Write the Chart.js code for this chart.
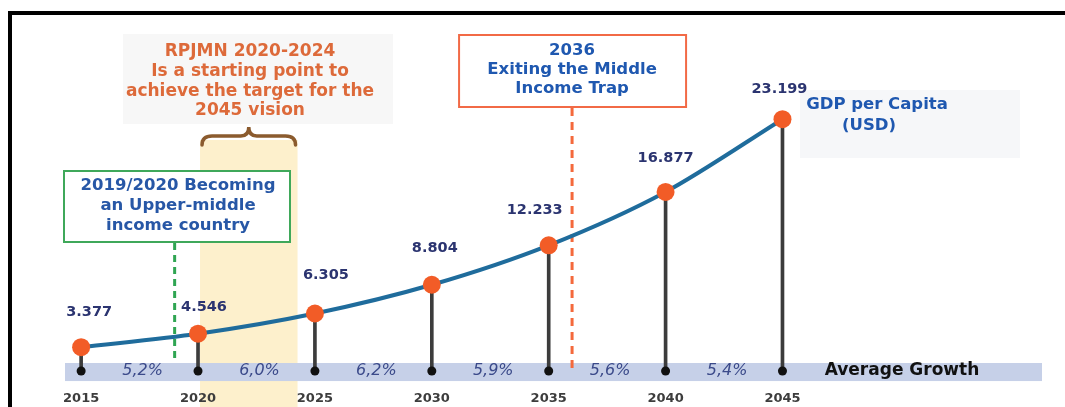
<!DOCTYPE html>
<html>
<head>
<meta charset="utf-8">
<script src="https://cdn.jsdelivr.net/npm/chart.js@4.4.1/dist/chart.umd.min.js"></script>
<style>
  html, body { margin: 0; padding: 0; background: #fff; }
  canvas { display: block; }
</style>
</head>
<body>
<canvas id="gdp-chart" width="1065" height="407"></canvas>
<script>
// GDP per capita (USD) on the road to the 2045 vision
const years = [2015, 2020, 2025, 2030, 2035, 2040, 2045];
const gdpPerCapita = [3377, 4546, 6305, 8804, 12233, 16877, 23199];
const avgGrowth = [5.2, 6.0, 6.2, 5.9, 5.6, 5.4]; // % per 5-year period
const rpjmnPeriod = [2020, 2024];
const upperMiddleYear = 2019;
const exitTrapYear = 2036;

const STEM_BASE = 1300; // level of the black dots on the growth band

// little helpers
function fmtThousands(v) {
  return String(v).replace(/\B(?=(\d{3})+(?!\d))/g, '.');
}
function fmtPct(v) {
  return v.toFixed(1).replace('.', ',') + '%';
}
function drawLines(ctx, lines, x, ys, font, color) {
  ctx.save();
  ctx.font = font;
  ctx.fillStyle = color;
  ctx.textAlign = 'center';
  ctx.textBaseline = 'middle';
  lines.forEach((s, i) => ctx.fillText(s, x, ys[i]));
  ctx.restore();
}

// backgrounds: frame, yellow RPJMN column, growth band
const backdrop = {
  id: 'backdrop',
  beforeDraw(chart) {
    const ctx = chart.ctx;
    const x = chart.scales.x, y = chart.scales.y;
    ctx.save();
    ctx.fillStyle = '#fff';
    ctx.fillRect(0, 0, chart.width, chart.height);

    // RPJMN column
    ctx.fillStyle = '#fdf0cc';
    const x0 = x.getPixelForValue(rpjmnPeriod[0]) + 2;
    const x1 = x.getPixelForValue(rpjmnPeriod[1]) + 6;
    ctx.fillRect(x0, 140, x1 - x0, chart.height - 140);

    // average growth band
    ctx.fillStyle = '#c6d0e8';
    const bTop = y.getPixelForValue(2000), bBot = y.getPixelForValue(430);
    ctx.fillRect(65, bTop, 1042 - 65, bBot - bTop);

    // light panels behind the text notes
    ctx.fillStyle = '#f7f7f7';
    ctx.fillRect(123, 34, 270, 90);
    ctx.fillStyle = '#f6f7f9';
    ctx.fillRect(800, 90, 220, 68);

    // frame
    ctx.fillStyle = '#000';
    ctx.fillRect(8, 11, chart.width - 8, 4);
    ctx.fillRect(8, 11, 4, chart.height - 11);
    ctx.restore();
  }
};

// boxes, dashed milestone lines, brace
const notes = {
  id: 'notes',
  beforeDatasetsDraw(chart) {
    const ctx = chart.ctx;
    const x = chart.scales.x, y = chart.scales.y;
    ctx.save();

    // green milestone
    const gx = x.getPixelForValue(upperMiddleYear);
    ctx.strokeStyle = '#2fa552';
    ctx.lineWidth = 3;
    ctx.setLineDash([7, 5]);
    ctx.beginPath();
    ctx.moveTo(gx, 243);
    ctx.lineTo(gx, y.getPixelForValue(2000));
    ctx.stroke();

    // orange milestone
    const ox = x.getPixelForValue(exitTrapYear);
    ctx.strokeStyle = '#f4693c';
    ctx.setLineDash([8, 6]);
    ctx.beginPath();
    ctx.moveTo(ox, 108);
    ctx.lineTo(ox, 368);
    ctx.stroke();
    ctx.setLineDash([]);

    // green box
    ctx.fillStyle = '#fff';
    ctx.fillRect(64, 171, 226, 71);
    ctx.strokeStyle = '#3fa85a';
    ctx.lineWidth = 2;
    ctx.strokeRect(64, 171, 226, 71);

    // orange box
    ctx.fillRect(ox - 113, 35, 227, 72);
    ctx.strokeStyle = '#f26a46';
    ctx.strokeRect(ox - 113, 35, 227, 72);

    // brace over the RPJMN column
    const bx0 = x.getPixelForValue(rpjmnPeriod[0]) + 2;
    const bx1 = x.getPixelForValue(rpjmnPeriod[1]) + 6;
    const bm = (bx0 + bx1) / 2;
    ctx.strokeStyle = '#8b5b2e';
    ctx.lineWidth = 3.5;
    ctx.lineCap = 'round';
    ctx.beginPath();
    ctx.moveTo(bx0 + 2, 145);
    ctx.quadraticCurveTo(bx0 + 2, 136, bx0 + 12, 136);
    ctx.lineTo(bm - 8, 136);
    ctx.quadraticCurveTo(bm, 136, bm, 127);
    ctx.quadraticCurveTo(bm, 136, bm + 8, 136);
    ctx.lineTo(bx1 - 12, 136);
    ctx.quadraticCurveTo(bx1 - 2, 136, bx1 - 2, 145);
    ctx.stroke();
    ctx.restore();
  },
  afterDatasetsDraw(chart) {
    const ctx = chart.ctx;
    const x = chart.scales.x, y = chart.scales.y;

    drawLines(ctx, ['RPJMN 2020-2024', 'Is a starting point to', 'achieve the target for the', '2045 vision'],
      250, [52, 72, 92, 111], 'bold 17px "DejaVu Sans"', '#dd6a3a');
    drawLines(ctx, ['2019/2020 Becoming', 'an Upper-middle', 'income country'],
      178, [186, 206, 226], 'bold 16.5px "DejaVu Sans"', '#2757a6');
    drawLines(ctx, ['2036', 'Exiting the Middle', 'Income Trap'],
      x.getPixelForValue(exitTrapYear), [51, 70, 89], 'bold 16.5px "DejaVu Sans"', '#1f58b0');
    drawLines(ctx, ['GDP per Capita'], 877, [105], 'bold 16.5px "DejaVu Sans"', '#1f58b0');
    drawLines(ctx, ['(USD)'], 869, [126], 'bold 16.5px "DejaVu Sans"', '#1f58b0');

    // value labels above the points
    const nudge = [[8, -35], [6, -26], [11, -38], [3, -37], [-14, -35], [0, -34], [-3, -30]];
    const pts = chart.getDatasetMeta(0).data;
    ctx.save();
    ctx.font = 'bold 14.5px "DejaVu Sans"';
    ctx.fillStyle = '#2b3470';
    ctx.textAlign = 'center';
    ctx.textBaseline = 'middle';
    pts.forEach((p, i) => {
      ctx.fillText(fmtThousands(gdpPerCapita[i]), p.x + nudge[i][0], p.y + nudge[i][1]);
    });

    // growth rates between the years
    const bandMid = y.getPixelForValue(STEM_BASE);
    ctx.font = 'italic 16px "DejaVu Sans"';
    ctx.fillStyle = '#3b4a8a';
    avgGrowth.forEach((g, i) => {
      const mx = x.getPixelForValue((years[i] + years[i + 1]) / 2) + 3;
      ctx.fillText(fmtPct(g), mx, bandMid);
    });
    ctx.font = 'bold 17px "DejaVu Sans"';
    ctx.fillStyle = '#111';
    ctx.fillText('Average Growth', 902, bandMid);
    ctx.restore();
  }
};

new Chart(document.getElementById('gdp-chart'), {
  type: 'line',
  data: {
    datasets: [
      {
        type: 'line',
        label: 'GDP per Capita (USD)',
        data: years.map((yr, i) => ({ x: yr, y: gdpPerCapita[i] })),
        borderColor: '#1f6c9c',
        borderWidth: 4,
        tension: 0.3,
        pointRadius: 9,
        pointBackgroundColor: '#f25c27',
        pointBorderWidth: 0,
        order: 0
      },
      {
        type: 'bar',
        label: 'stems',
        data: years.map((yr, i) => ({ x: yr, y: [STEM_BASE, gdpPerCapita[i]] })),
        backgroundColor: '#3c3c3c',
        barThickness: 3,
        grouped: false,
        order: 2
      },
      {
        type: 'scatter',
        label: 'base',
        data: years.map(yr => ({ x: yr, y: STEM_BASE })),
        pointRadius: 4.5,
        pointBackgroundColor: '#111',
        pointBorderWidth: 0,
        order: 1
      }
    ]
  },
  options: {
    responsive: false,
    animation: false,
    devicePixelRatio: 1,
    layout: { padding: { left: 11, right: 1, top: 14, bottom: 0 } },
    plugins: {
      legend: { display: false },
      tooltip: { enabled: false }
    },
    scales: {
      x: {
        type: 'linear',
        min: 2012,
        max: 2056.7,
        offset: false,
        grid: { display: false, drawTicks: false },
        border: { display: false },
        afterBuildTicks: s => { s.ticks = years.map(v => ({ value: v })); },
        afterFit: s => { s.height = 21; },
        ticks: {
          padding: 5,
          maxRotation: 0,
          autoSkip: false,
          color: '#3d3d3d',
          font: { family: 'DejaVu Sans', size: 13, weight: 'bold' },
          callback: v => String(v)
        }
      },
      y: {
        display: false,
        min: 0,
        max: 32350
      }
    }
  },
  plugins: [backdrop, notes]
});
</script>
</body>
</html>
